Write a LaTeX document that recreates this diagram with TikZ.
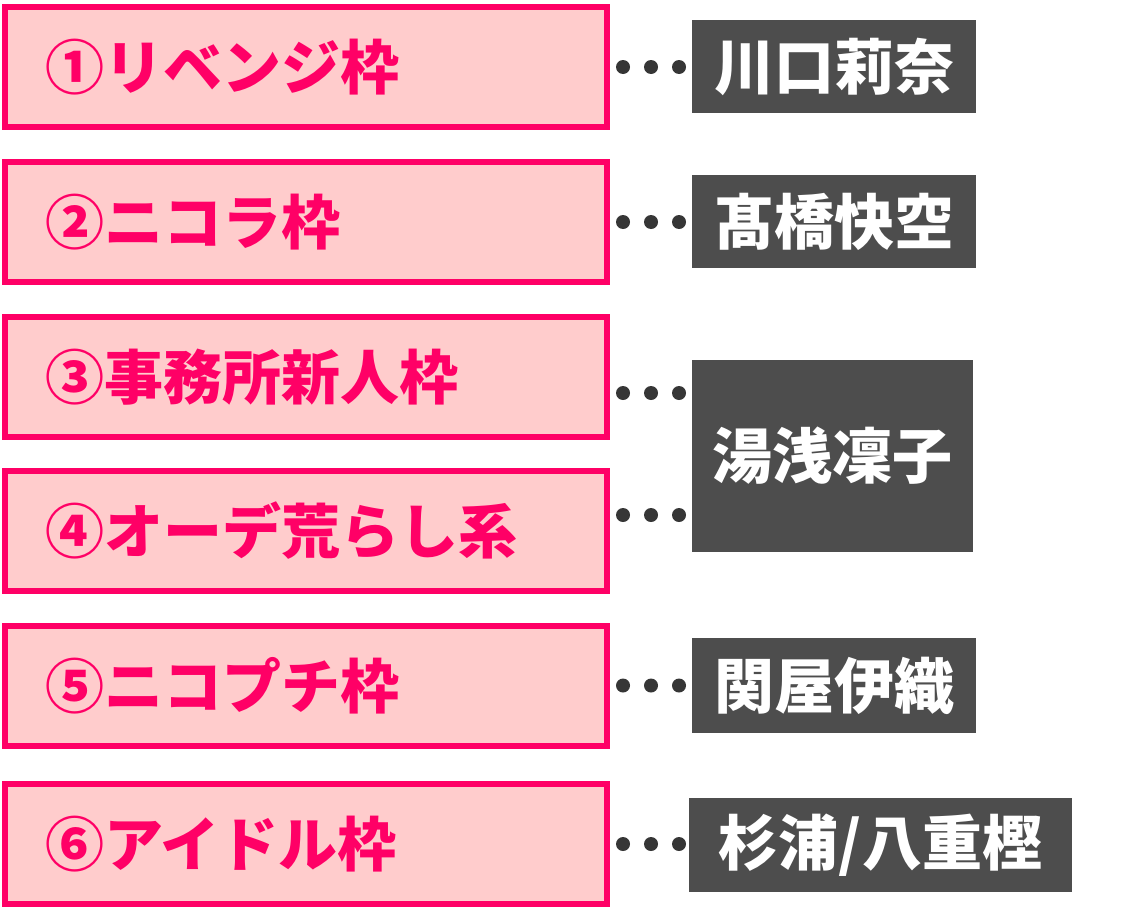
\documentclass[tikz,border=0pt]{standalone}
\usepackage{fontspec}
\setmainfont{Noto Sans CJK JP}
\usetikzlibrary{calc}
\definecolor{wakpink}{HTML}{FF0066}
\definecolor{wakfill}{HTML}{FFCCCC}
\definecolor{namegray}{HTML}{4D4D4D}
\definecolor{dotgray}{HTML}{363636}
\tikzset{
  wakbox/.style={draw=wakpink, fill=wakfill, line width=6pt,
    minimum width=602pt, minimum height=120pt, inner xsep=40pt,
    text width=522pt, align=left, text=wakpink,
    font=\fontsize{59}{59}\selectfont\bfseries},
  namebox/.style={fill=namegray, text=white, inner sep=0pt,
    font=\fontsize{60}{60}\selectfont\bfseries},
  leaderdot/.style={fill=dotgray}
}
\begin{document}
\begin{tikzpicture}[x=1pt,y=-1pt]
    \useasboundingbox (0,0) rectangle (1140,910);

    % 枠
    \node[wakbox] (w1) at (306,67)    {①リベンジ枠};
    \node[wakbox] (w2) at (306,222)   {②ニコラ枠};
    \node[wakbox] (w3) at (306,377)   {③事務所新人枠};
    \node[wakbox] (w4) at (306,530.5) {④オーデ荒らし系};
    \node[wakbox] (w5) at (306,685.5) {⑤ニコプチ枠};
    \node[wakbox] (w6) at (306,844)   {⑥アイドル枠};

    % 名前
    \node[namebox, minimum width=284pt, minimum height=93pt]  (n1) at (834,66.5)  {川口莉奈};
    \node[namebox, minimum width=284pt, minimum height=93pt]  (n2) at (834,221.5) {髙橋快空};
    \node[namebox, minimum width=281pt, minimum height=192pt] (n3) at (832.5,456) {湯浅凜子};
    \node[namebox, minimum width=284pt, minimum height=95pt]  (n5) at (834,685.5) {関屋伊織};
    \node[namebox, minimum width=383pt, minimum height=94pt]  (n6) at (880.5,845) {杉浦/八重樫};

    % 点線
    \foreach \w/\dy in {w1/0, w2/0, w3/16, w4/-15.5, w5/0, w6/0}
      \foreach \k in {1,2,3}
        \fill[leaderdot] ($(\w.east)+(\k*28-15,\dy)$) circle (7);
\end{tikzpicture}
\end{document}
